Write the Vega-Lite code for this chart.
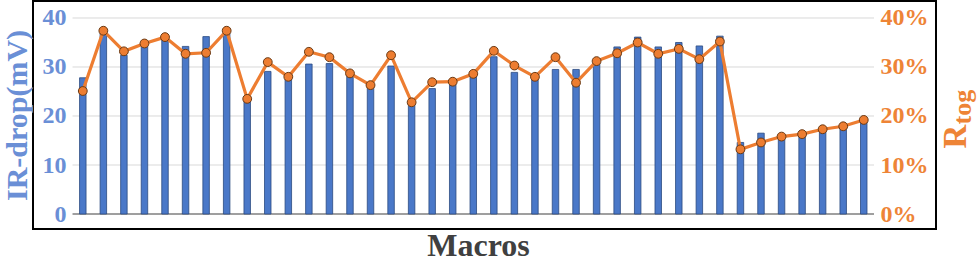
{
  "$schema": "https://vega.github.io/schema/vega-lite/v6.json",
  "width": 903,
  "height": 228,
  "autosize": {"type": "none"},
  "padding": {"left": 33, "top": 1, "right": 41, "bottom": 32},
  "background": "white",
  "config": {
    "view": {"stroke": "#000000", "strokeWidth": 2},
    "font": "Liberation Serif"
  },
  "datasets": {
    "macros": [
      {"macro": 1, "ir": 27.8, "rtog": 0.251},
      {"macro": 2, "ir": 37.0, "rtog": 0.374},
      {"macro": 3, "ir": 32.4, "rtog": 0.332},
      {"macro": 4, "ir": 34.4, "rtog": 0.348},
      {"macro": 5, "ir": 36.0, "rtog": 0.361},
      {"macro": 6, "ir": 34.2, "rtog": 0.327},
      {"macro": 7, "ir": 36.2, "rtog": 0.329},
      {"macro": 8, "ir": 37.0, "rtog": 0.374},
      {"macro": 9, "ir": 23.3, "rtog": 0.235},
      {"macro": 10, "ir": 29.1, "rtog": 0.310},
      {"macro": 11, "ir": 27.6, "rtog": 0.280},
      {"macro": 12, "ir": 30.6, "rtog": 0.331},
      {"macro": 13, "ir": 30.7, "rtog": 0.320},
      {"macro": 14, "ir": 28.6, "rtog": 0.287},
      {"macro": 15, "ir": 26.0, "rtog": 0.263},
      {"macro": 16, "ir": 30.2, "rtog": 0.324},
      {"macro": 17, "ir": 22.6, "rtog": 0.228},
      {"macro": 18, "ir": 25.6, "rtog": 0.269},
      {"macro": 19, "ir": 26.8, "rtog": 0.270},
      {"macro": 20, "ir": 28.3, "rtog": 0.286},
      {"macro": 21, "ir": 32.1, "rtog": 0.333},
      {"macro": 22, "ir": 28.9, "rtog": 0.303},
      {"macro": 23, "ir": 27.7, "rtog": 0.280},
      {"macro": 24, "ir": 29.5, "rtog": 0.320},
      {"macro": 25, "ir": 29.5, "rtog": 0.268},
      {"macro": 26, "ir": 30.8, "rtog": 0.312},
      {"macro": 27, "ir": 34.1, "rtog": 0.328},
      {"macro": 28, "ir": 36.1, "rtog": 0.350},
      {"macro": 29, "ir": 34.1, "rtog": 0.327},
      {"macro": 30, "ir": 35.0, "rtog": 0.337},
      {"macro": 31, "ir": 34.3, "rtog": 0.316},
      {"macro": 32, "ir": 36.3, "rtog": 0.352},
      {"macro": 33, "ir": 14.6, "rtog": 0.132},
      {"macro": 34, "ir": 16.5, "rtog": 0.146},
      {"macro": 35, "ir": 16.3, "rtog": 0.158},
      {"macro": 36, "ir": 16.3, "rtog": 0.163},
      {"macro": 37, "ir": 17.1, "rtog": 0.173},
      {"macro": 38, "ir": 18.4, "rtog": 0.179},
      {"macro": 39, "ir": 19.2, "rtog": 0.192}
    ],
    "grid": [{"g": 10}, {"g": 20}, {"g": 30}, {"g": 40}],
    "base": [{"g": 0}]
  },
  "layer": [
    {
      "data": {"name": "grid"},
      "mark": {"type": "rule", "color": "#d9d9d9", "strokeWidth": 1},
      "encoding": {
        "x": {"datum": 0.5, "type": "quantitative", "scale": {"domain": [-1.18, 42.272], "nice": false, "zero": false}, "axis": {"title": "Macros", "orient": "bottom", "labels": false, "ticks": false, "domain": false, "grid": false, "titleFont": "Liberation Serif", "titleFontSize": 32, "titleFontWeight": "bold", "titleColor": "#404040", "titleX": 445, "titleY": 26, "titleAlign": "center", "titleBaseline": "alphabetic"}},
        "x2": {"datum": 39.5},
        "y": {"field": "g", "type": "quantitative", "scale": {"domain": [-3.061, 43.469], "nice": false, "zero": false}, "axis": null}
      }
    },
    {
      "data": {"name": "base"},
      "mark": {"type": "rule", "color": "#404040", "strokeWidth": 1.2},
      "encoding": {
        "x": {"datum": 0.5, "type": "quantitative"},
        "x2": {"datum": 39.5},
        "y": {"field": "g", "type": "quantitative", "scale": {"domain": [-3.061, 43.469], "nice": false, "zero": false}, "axis": null}
      }
    },
    {
      "data": {"name": "macros"},
      "mark": {"type": "bar", "width": 6.5, "color": "#4a78c8", "stroke": "#2b4a80", "strokeWidth": 0.8},
      "encoding": {
        "x": {"field": "macro", "type": "quantitative"},
        "y": {
          "field": "ir", "type": "quantitative",
          "scale": {"domain": [-3.061, 43.469], "nice": false, "zero": false},
          "axis": {
            "orient": "left", "offset": -35, "values": [0, 10, 20, 30, 40],
            "grid": false, "domain": false, "ticks": false,
            "labelFont": "Liberation Serif", "labelFontSize": 24, "labelFontWeight": "bold", "labelColor": "#6a8fd6", "labelPadding": 2,
            "title": "IR-drop(mV)", "titleFont": "Liberation Serif", "titleFontSize": 30, "titleFontWeight": "bold", "titleColor": "#6a8fd6",
            "titleAngle": 270, "titleX": -41.5, "titleY": 114, "titleAlign": "center", "titleBaseline": "alphabetic"
          }
        }
      }
    },
    {
      "data": {"name": "macros"},
      "mark": {"type": "line", "color": "#ED7D31", "strokeWidth": 3.2},
      "encoding": {
        "x": {"field": "macro", "type": "quantitative"},
        "y": {
          "field": "rtog", "type": "quantitative",
          "scale": {"domain": [-0.03061, 0.43469], "nice": false, "zero": false},
          "axis": {
            "orient": "right", "offset": -58, "values": [0, 0.1, 0.2, 0.3, 0.4], "format": ".0%",
            "grid": false, "domain": false, "ticks": false,
            "labelFont": "Liberation Serif", "labelFontSize": 24, "labelFontWeight": "bold", "labelColor": "#ee8436", "labelPadding": 2,
            "title": "R", "titleFont": "Liberation Serif", "titleFontSize": 33, "titleFontWeight": "bold", "titleColor": "#ee8436",
            "titleAngle": 270, "titleX": 87, "titleY": 147, "titleAlign": "left", "titleBaseline": "alphabetic"
          }
        }
      }
    },
    {
      "data": {"name": "macros"},
      "mark": {"type": "point", "filled": true, "fill": "#ED7D31", "stroke": "#6b3a14", "strokeWidth": 1, "size": 78, "opacity": 1},
      "encoding": {
        "x": {"field": "macro", "type": "quantitative"},
        "y": {
          "field": "rtog", "type": "quantitative",
          "scale": {"domain": [-0.03061, 0.43469], "nice": false, "zero": false},
          "axis": {
            "orient": "right", "offset": -58, "labels": false, "grid": false, "domain": false, "ticks": false,
            "title": "tog", "titleFont": "Liberation Serif", "titleFontSize": 26, "titleFontWeight": "bold", "titleColor": "#ee8436",
            "titleAngle": 270, "titleX": 92, "titleY": 123, "titleAlign": "left", "titleBaseline": "alphabetic"
          }
        }
      }
    }
  ],
  "resolve": {"scale": {"y": "independent"}, "axis": {"y": "independent"}}
}
